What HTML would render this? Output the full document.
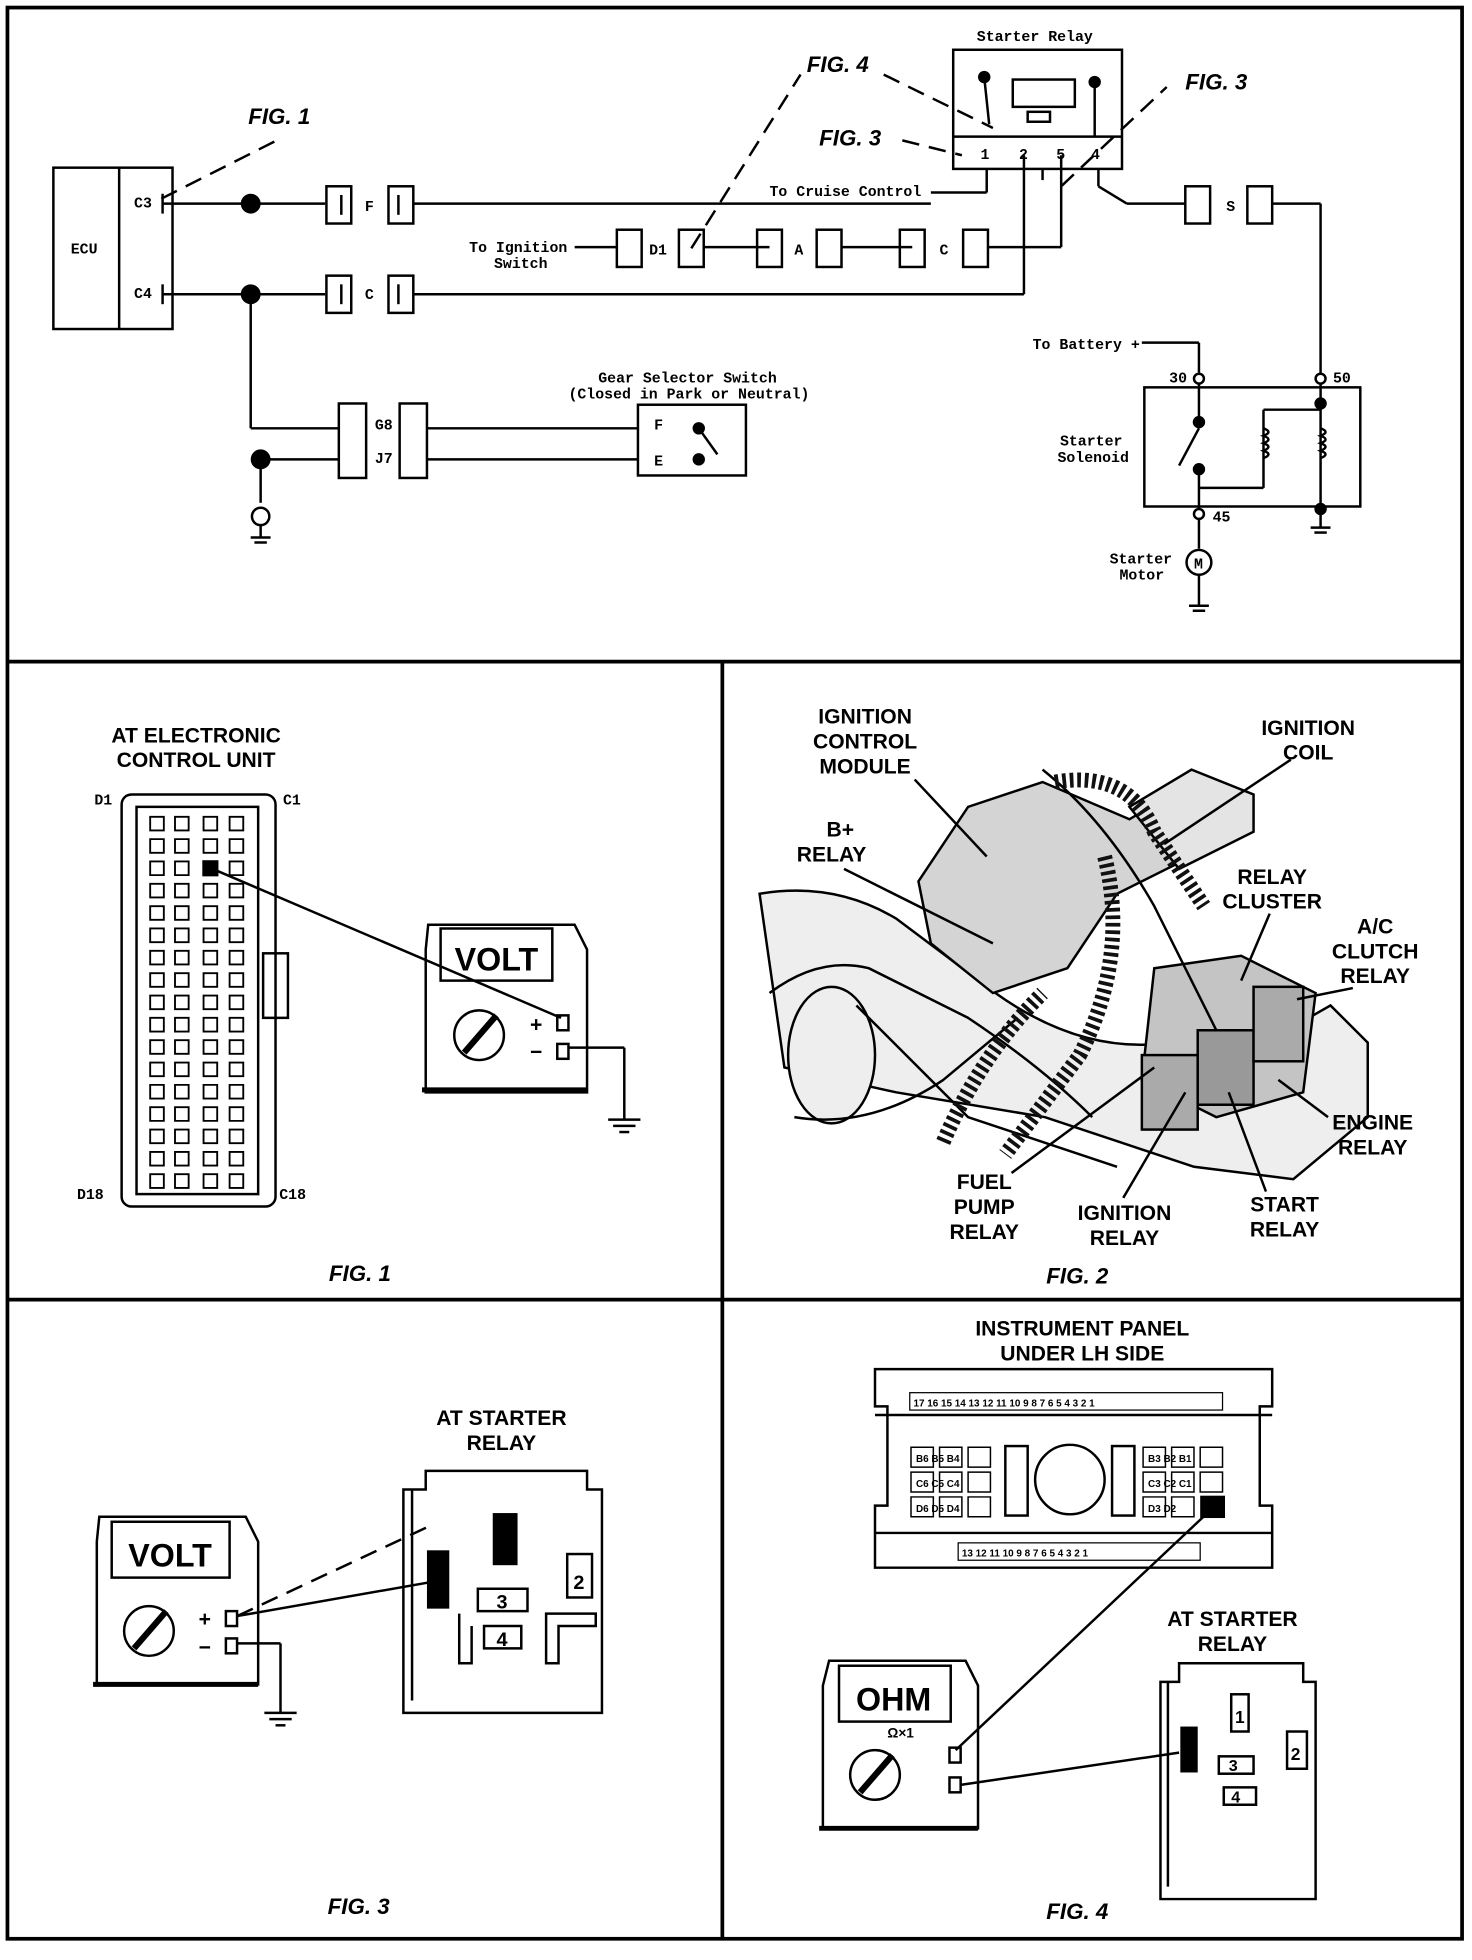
<!DOCTYPE html>
<html><head><meta charset="utf-8"><style>
html,body{margin:0;padding:0;background:#fff}
svg{display:block}
text{font-family:"Liberation Sans",sans-serif;fill:#000}
.m{font-family:"Liberation Mono",monospace;font-weight:bold;font-size:12px}
.b{font-weight:bold;font-size:17px}
.f{font-weight:bold;font-style:italic;font-size:18px}
</style></head><body>
<svg width="1472" height="1960" viewBox="0 0 1186 1579" xmlns="http://www.w3.org/2000/svg" stroke="#000" fill="none" stroke-width="2">
<rect x="6" y="6" width="1172" height="1556" stroke-width="3"/>
<line x1="6" y1="533" x2="1178" y2="533" stroke-width="3"/>
<line x1="582" y1="533" x2="582" y2="1562" stroke-width="3"/>
<line x1="6" y1="1047" x2="1178" y2="1047" stroke-width="3"/>

<!-- ECU -->
<rect x="43" y="135" width="96" height="130"/>
<line x1="96" y1="135" x2="96" y2="265"/>
<text class="m" x="57" y="204" stroke="none">ECU</text>
<text class="m" x="108" y="167" stroke="none">C3</text>
<text class="m" x="108" y="240" stroke="none">C4</text>
<line x1="131" y1="156" x2="131" y2="172"/><line x1="131" y1="229" x2="131" y2="245"/>
<line x1="131" y1="164" x2="262" y2="164"/>
<line x1="131" y1="237" x2="262" y2="237"/>
<circle cx="202" cy="164" r="7" fill="#000"/><circle cx="202" cy="237" r="7" fill="#000"/>
<g stroke-dasharray="14,8"><line x1="130" y1="160" x2="225" y2="112"/></g>
<text class="f" x="200" y="100" stroke="none">FIG. 1</text>
<rect x="263" y="150" width="20" height="30"/><rect x="313" y="150" width="20" height="30"/>
<line x1="275" y1="157" x2="275" y2="173"/><line x1="321" y1="157" x2="321" y2="173"/>
<text class="m" x="294" y="170" stroke="none">F</text>
<line x1="333" y1="164" x2="750" y2="164"/>
<text class="m" x="620" y="158" stroke="none">To Cruise Control</text>
<line x1="750" y1="155" x2="795" y2="155"/>
<rect x="263" y="222" width="20" height="30"/><rect x="313" y="222" width="20" height="30"/>
<line x1="275" y1="229" x2="275" y2="245"/><line x1="321" y1="229" x2="321" y2="245"/>
<text class="m" x="294" y="241" stroke="none">C</text>
<line x1="333" y1="237" x2="825" y2="237"/>
<line x1="202" y1="237" x2="202" y2="345"/><line x1="202" y1="345" x2="273" y2="345"/>
<text class="m" x="378" y="203" stroke="none">To Ignition</text>
<text class="m" x="398" y="216" stroke="none">Switch</text>
<line x1="463" y1="199" x2="497" y2="199"/>
<rect x="497" y="185" width="20" height="30"/><text class="m" x="523" y="205" stroke="none">D1</text>
<rect x="547" y="185" width="20" height="30"/>
<line x1="567" y1="199" x2="620" y2="199"/>
<rect x="610" y="185" width="20" height="30"/><text class="m" x="640" y="205" stroke="none">A</text>
<rect x="658" y="185" width="20" height="30"/>
<line x1="678" y1="199" x2="735" y2="199"/>
<rect x="725" y="185" width="20" height="30"/><text class="m" x="757" y="205" stroke="none">C</text>
<rect x="776" y="185" width="20" height="30"/>
<line x1="796" y1="199" x2="855" y2="199"/>
<line x1="855" y1="199" x2="855" y2="125"/>
<line x1="825" y1="237" x2="825" y2="125"/>
<g stroke-dasharray="14,8"><line x1="557" y1="200" x2="645" y2="60"/><line x1="712" y1="60" x2="800" y2="103"/><line x1="727" y1="113" x2="775" y2="125"/><line x1="855" y1="150" x2="940" y2="70"/></g>
<text class="f" x="650" y="58" stroke="none">FIG. 4</text>
<text class="f" x="955" y="72" stroke="none">FIG. 3</text>
<text class="f" x="660" y="117" stroke="none">FIG. 3</text>
<text class="m" x="787" y="33" stroke="none">Starter Relay</text>
<rect x="768" y="40" width="136" height="96"/>
<line x1="768" y1="110" x2="904" y2="110"/>
<text class="m" x="790" y="128" stroke="none">1</text><text class="m" x="821" y="128" stroke="none">2</text><text class="m" x="851" y="128" stroke="none">5</text><text class="m" x="879" y="128" stroke="none">4</text>
<circle cx="793" cy="62" r="4" fill="#000"/><circle cx="882" cy="66" r="4" fill="#000"/>
<line x1="793" y1="62" x2="797" y2="100"/><line x1="882" y1="66" x2="882" y2="110"/>
<rect x="816" y="64" width="50" height="22"/><rect x="828" y="90" width="18" height="8"/>
<line x1="795" y1="136" x2="795" y2="155"/>
<line x1="885" y1="136" x2="885" y2="150"/><line x1="885" y1="150" x2="908" y2="164"/>
<line x1="908" y1="164" x2="955" y2="164"/>
<line x1="840" y1="136" x2="840" y2="145"/>
<rect x="955" y="150" width="20" height="30"/><text class="m" x="988" y="170" stroke="none">S</text>
<rect x="1005" y="150" width="20" height="30"/>
<line x1="1025" y1="164" x2="1064" y2="164"/><line x1="1064" y1="164" x2="1064" y2="305"/>
<text class="m" x="832" y="281" stroke="none">To Battery +</text>
<line x1="920" y1="276" x2="966" y2="276"/><line x1="966" y1="276" x2="966" y2="300"/>
<text class="m" x="942" y="308" stroke="none">30</text><text class="m" x="1074" y="308" stroke="none">50</text>
<circle cx="966" cy="305" r="4" fill="#fff"/><circle cx="1064" cy="305" r="4" fill="#fff"/>
<rect x="922" y="312" width="174" height="96"/>
<text class="m" x="854" y="359" stroke="none">Starter</text><text class="m" x="852" y="372" stroke="none">Solenoid</text>
<line x1="966" y1="309" x2="966" y2="340"/><line x1="966" y1="345" x2="950" y2="375"/>
<circle cx="966" cy="340" r="4" fill="#000"/><circle cx="966" cy="378" r="4" fill="#000"/>
<line x1="966" y1="378" x2="966" y2="410"/>
<line x1="966" y1="393" x2="1018" y2="393"/>
<line x1="1018" y1="393" x2="1018" y2="330"/><line x1="1018" y1="330" x2="1064" y2="330"/>
<path d="M1018 345 q8 3 0 6 q8 3 0 6 q8 3 0 6 q8 3 0 6"/>
<path d="M1064 345 q8 3 0 6 q8 3 0 6 q8 3 0 6 q8 3 0 6"/>
<circle cx="1064" cy="325" r="4" fill="#000"/><circle cx="1064" cy="410" r="4" fill="#000"/>
<line x1="1064" y1="309" x2="1064" y2="425"/>
<line x1="1056" y1="425" x2="1072" y2="425"/><line x1="1059" y1="429" x2="1069" y2="429"/>
<circle cx="966" cy="414" r="4" fill="#fff"/><text class="m" x="977" y="420" stroke="none">45</text>
<line x1="966" y1="418" x2="966" y2="442"/>
<circle cx="966" cy="453" r="10"/><text class="m" x="962" y="458" stroke="none" font-size="9">M</text>
<text class="m" x="894" y="454" stroke="none">Starter</text><text class="m" x="902" y="467" stroke="none">Motor</text>
<line x1="966" y1="463" x2="966" y2="488"/>
<line x1="958" y1="488" x2="974" y2="488"/><line x1="961" y1="492" x2="971" y2="492"/>
<rect x="273" y="325" width="22" height="60"/><rect x="322" y="325" width="22" height="60"/>
<text class="m" x="302" y="346" stroke="none">G8</text><text class="m" x="302" y="373" stroke="none">J7</text>
<line x1="344" y1="345" x2="514" y2="345"/><line x1="344" y1="370" x2="514" y2="370"/>
<text class="m" x="482" y="308" stroke="none">Gear Selector Switch</text>
<text class="m" x="458" y="321" stroke="none">(Closed in Park or Neutral)</text>
<rect x="514" y="326" width="87" height="57"/>
<text class="m" x="527" y="346" stroke="none">F</text><text class="m" x="527" y="375" stroke="none">E</text>
<circle cx="563" cy="345" r="4" fill="#000"/><circle cx="563" cy="370" r="4" fill="#000"/>
<line x1="563" y1="345" x2="578" y2="366"/>
<circle cx="210" cy="370" r="7" fill="#000"/><line x1="217" y1="370" x2="273" y2="370"/>
<line x1="210" y1="377" x2="210" y2="405"/><circle cx="210" cy="416" r="7"/>
<line x1="210" y1="423" x2="210" y2="433"/><line x1="202" y1="433" x2="218" y2="433"/><line x1="205" y1="437" x2="215" y2="437"/>

<!-- FIG 1 -->
<text class="b" x="158" y="598" text-anchor="middle" stroke="none">AT ELECTRONIC</text>
<text class="b" x="158" y="618" text-anchor="middle" stroke="none">CONTROL UNIT</text>
<text class="m" x="76" y="648" stroke="none">D1</text><text class="m" x="228" y="648" stroke="none">C1</text>
<text class="m" x="62" y="966" stroke="none">D18</text><text class="m" x="225" y="966" stroke="none">C18</text>
<rect x="98" y="640" width="124" height="332" rx="8"/>
<rect x="110" y="650" width="98" height="312"/>
<g stroke-width="1.5">
<path d="M121 658h11v11h-11zM141 658h11v11h-11zM164 658h11v11h-11zM185 658h11v11h-11z
M121 676h11v11h-11zM141 676h11v11h-11zM164 676h11v11h-11zM185 676h11v11h-11z
M121 694h11v11h-11zM141 694h11v11h-11zM185 694h11v11h-11z
M121 712h11v11h-11zM141 712h11v11h-11zM164 712h11v11h-11zM185 712h11v11h-11z
M121 730h11v11h-11zM141 730h11v11h-11zM164 730h11v11h-11zM185 730h11v11h-11z
M121 748h11v11h-11zM141 748h11v11h-11zM164 748h11v11h-11zM185 748h11v11h-11z
M121 766h11v11h-11zM141 766h11v11h-11zM164 766h11v11h-11zM185 766h11v11h-11z
M121 784h11v11h-11zM141 784h11v11h-11zM164 784h11v11h-11zM185 784h11v11h-11z
M121 802h11v11h-11zM141 802h11v11h-11zM164 802h11v11h-11zM185 802h11v11h-11z
M121 820h11v11h-11zM141 820h11v11h-11zM164 820h11v11h-11zM185 820h11v11h-11z
M121 838h11v11h-11zM141 838h11v11h-11zM164 838h11v11h-11zM185 838h11v11h-11z
M121 856h11v11h-11zM141 856h11v11h-11zM164 856h11v11h-11zM185 856h11v11h-11z
M121 874h11v11h-11zM141 874h11v11h-11zM164 874h11v11h-11zM185 874h11v11h-11z
M121 892h11v11h-11zM141 892h11v11h-11zM164 892h11v11h-11zM185 892h11v11h-11z
M121 910h11v11h-11zM141 910h11v11h-11zM164 910h11v11h-11zM185 910h11v11h-11z
M121 928h11v11h-11zM141 928h11v11h-11zM164 928h11v11h-11zM185 928h11v11h-11z
M121 946h11v11h-11zM141 946h11v11h-11zM164 946h11v11h-11zM185 946h11v11h-11z"/>
</g>
<rect x="164" y="694" width="11" height="11" fill="#000"/>
<rect x="212" y="768" width="20" height="52"/>
<line x1="169" y1="699" x2="452" y2="820"/>
<path d="M345 745 l118 0 l10 20 l0 115 l-130 0 l0 -115 z"/>
<line x1="340" y1="878" x2="473" y2="878" stroke-width="4"/>
<rect x="355" y="748" width="90" height="42"/>
<text x="400" y="782" text-anchor="middle" stroke="none" font-size="26" font-weight="bold">VOLT</text>
<circle cx="386" cy="834" r="20"/><line x1="374" y1="848" x2="400" y2="818" stroke-width="5"/>
<text class="b" x="427" y="831" stroke="none">+</text><text class="b" x="427" y="853" stroke="none">−</text>
<rect x="449" y="818" width="9" height="12"/><rect x="449" y="841" width="9" height="12"/>
<line x1="458" y1="844" x2="503" y2="844"/><line x1="503" y1="844" x2="503" y2="902"/>
<line x1="490" y1="902" x2="516" y2="902"/><line x1="494" y1="907" x2="512" y2="907"/><line x1="499" y1="912" x2="507" y2="912"/>
<text class="f" x="290" y="1032" text-anchor="middle" stroke="none">FIG. 1</text>

<!-- FIG 2 shapes -->
<g stroke-width="2">
<path d="M612 720 q60 -10 110 20 l80 60 q70 50 140 40 l60 10 l70 -40 l30 30 l0 60 l-60 50 l-80 -10 l-120 -40 l-120 -20 l-90 -20 z" fill="#eee"/>
<path d="M740 710 l40 -60 l60 -20 l70 30 l50 -30 l40 10 l-20 40 l-80 40 l-40 60 l-60 20 l-50 -40 z" fill="#d4d4d4"/>
<path d="M910 650 l50 -30 l50 20 l0 30 l-60 30 z" fill="#e4e4e4"/>
<path d="M930 780 l70 -10 l60 30 l-10 80 l-70 20 l-60 -30 z" fill="#c4c4c4"/>
<rect x="920" y="850" width="45" height="60" fill="#aaa"/><rect x="965" y="830" width="45" height="60" fill="#999"/><rect x="1010" y="795" width="40" height="60" fill="#aaa"/>
<ellipse cx="670" cy="850" rx="35" ry="55" fill="#eee"/>
</g>
<path d="M620 800 q40 -30 80 -20 l80 40 q60 40 100 80"/>
<path d="M640 900 q60 10 120 -30 l60 -50"/>
<path d="M840 620 q50 40 90 110 l50 100"/>
<path d="M690 810 l90 90 l120 40"/>
<g stroke-width="12" stroke="#111" stroke-dasharray="3,3">
<path d="M890 690 q20 80 -20 160 l-60 80"/>
<path d="M850 630 q60 -10 80 40 l40 60"/>
<path d="M760 920 q30 -70 80 -120"/>
</g>
<line x1="737" y1="628" x2="795" y2="690"/><line x1="1040" y1="612" x2="938" y2="680"/>
<line x1="680" y1="700" x2="800" y2="760"/><line x1="1023" y1="736" x2="1000" y2="790"/>
<line x1="1090" y1="796" x2="1045" y2="805"/><line x1="1070" y1="900" x2="1030" y2="870"/>
<line x1="1020" y1="960" x2="990" y2="880"/><line x1="905" y1="965" x2="955" y2="880"/>
<line x1="815" y1="945" x2="930" y2="860"/>
<!-- FIG 2 labels -->
<g stroke="none">
<text class="b" x="697" y="583" text-anchor="middle">IGNITION</text>
<text class="b" x="697" y="603" text-anchor="middle">CONTROL</text>
<text class="b" x="697" y="623" text-anchor="middle">MODULE</text>
<text class="b" x="1054" y="592" text-anchor="middle">IGNITION</text>
<text class="b" x="1054" y="612" text-anchor="middle">COIL</text>
<text class="b" x="677" y="674" text-anchor="middle">B+</text>
<text class="b" x="670" y="694" text-anchor="middle">RELAY</text>
<text class="b" x="1025" y="712" text-anchor="middle">RELAY</text>
<text class="b" x="1025" y="732" text-anchor="middle">CLUSTER</text>
<text class="b" x="1108" y="752" text-anchor="middle">A/C</text>
<text class="b" x="1108" y="772" text-anchor="middle">CLUTCH</text>
<text class="b" x="1108" y="792" text-anchor="middle">RELAY</text>
<text class="b" x="1106" y="910" text-anchor="middle">ENGINE</text>
<text class="b" x="1106" y="930" text-anchor="middle">RELAY</text>
<text class="b" x="1035" y="976" text-anchor="middle">START</text>
<text class="b" x="1035" y="996" text-anchor="middle">RELAY</text>
<text class="b" x="906" y="983" text-anchor="middle">IGNITION</text>
<text class="b" x="906" y="1003" text-anchor="middle">RELAY</text>
<text class="b" x="793" y="958" text-anchor="middle">FUEL</text>
<text class="b" x="793" y="978" text-anchor="middle">PUMP</text>
<text class="b" x="793" y="998" text-anchor="middle">RELAY</text>
<text class="f" x="868" y="1034" text-anchor="middle">FIG. 2</text>
</g>

<!-- FIG 3 -->
<text class="b" x="404" y="1148" text-anchor="middle" stroke="none">AT STARTER</text>
<text class="b" x="404" y="1168" text-anchor="middle" stroke="none">RELAY</text>
<path d="M80 1222 l118 0 l10 20 l0 115 l-130 0 l0 -115 z"/>
<line x1="75" y1="1357" x2="208" y2="1357" stroke-width="4"/>
<rect x="90" y="1226" width="95" height="45"/>
<text x="137" y="1262" text-anchor="middle" stroke="none" font-size="26" font-weight="bold">VOLT</text>
<circle cx="120" cy="1314" r="20"/><line x1="108" y1="1328" x2="134" y2="1298" stroke-width="5"/>
<text class="b" x="160" y="1310" stroke="none">+</text><text class="b" x="160" y="1333" stroke="none">−</text>
<rect x="182" y="1298" width="9" height="12"/><rect x="182" y="1320" width="9" height="12"/>
<line x1="191" y1="1324" x2="226" y2="1324"/><line x1="226" y1="1324" x2="226" y2="1380"/>
<line x1="213" y1="1380" x2="239" y2="1380"/><line x1="217" y1="1385" x2="235" y2="1385"/><line x1="222" y1="1390" x2="230" y2="1390"/>
<line x1="191" y1="1302" x2="345" y2="1275"/><line x1="191" y1="1302" x2="345" y2="1230" stroke-dasharray="14,8"/>
<path d="M325 1200 l18 0 l0 -15 l130 0 l0 15 l12 0 l0 180 l-160 0 z"/>
<line x1="332" y1="1200" x2="332" y2="1370"/>
<rect x="398" y="1220" width="18" height="40" fill="#000"/>
<rect x="345" y="1250" width="16" height="45" fill="#000"/>
<rect x="457" y="1252" width="20" height="35"/><text x="462" y="1280" stroke="none" font-size="16" font-weight="bold">2</text>
<path d="M385 1280 l40 0 l0 18 l-40 0 z"/><text x="400" y="1296" stroke="none" font-size="16" font-weight="bold">3</text>
<path d="M390 1310 l30 0 l0 18 l-30 0 z"/><text x="400" y="1326" stroke="none" font-size="16" font-weight="bold">4</text>
<path d="M370 1300 l0 40 l10 0 l0 -30"/><path d="M440 1300 l40 0 l0 10 l-30 0 l0 30 l-10 0z"/>
<text class="f" x="289" y="1542" text-anchor="middle" stroke="none">FIG. 3</text>

<!-- FIG 4 -->
<text class="b" x="872" y="1076" text-anchor="middle" stroke="none">INSTRUMENT PANEL</text>
<text class="b" x="872" y="1096" text-anchor="middle" stroke="none">UNDER LH SIDE</text>
<path d="M705 1103 l320 0 l0 30 l-10 0 l0 80 l10 0 l0 50 l-320 0 l0 -50 l10 0 l0 -80 l-10 0 z"/>
<line x1="705" y1="1140" x2="1025" y2="1140"/>
<line x1="705" y1="1235" x2="1025" y2="1235"/>
<g font-size="8" font-weight="bold">
<rect x="733" y="1122" width="252" height="14" stroke-width="1"/>
<text x="736" y="1133" stroke="none">17 16 15 14 13 12 11 10  9   8   7   6   5   4   3   2   1</text>
<rect x="772" y="1243" width="195" height="14" stroke-width="1"/>
<text x="775" y="1254" stroke="none">13 12 11 10  9   8   7   6   5   4   3   2   1</text>
<text x="738" y="1178" stroke="none">B6  B5  B4</text>
<text x="738" y="1198" stroke="none">C6  C5  C4</text>
<text x="738" y="1218" stroke="none">D6  D5  D4</text>
<text x="925" y="1178" stroke="none">B3  B2  B1</text>
<text x="925" y="1198" stroke="none">C3  C2  C1</text>
<text x="925" y="1218" stroke="none">D3  D2</text>
</g>
<g stroke-width="1.2">
<path d="M734 1166h18v16h-18zM757 1166h18v16h-18zM780 1166h18v16h-18zM734 1186h18v16h-18zM757 1186h18v16h-18zM780 1186h18v16h-18zM734 1206h18v16h-18zM757 1206h18v16h-18zM780 1206h18v16h-18z"/>
<path d="M921 1166h18v16h-18zM944 1166h18v16h-18zM967 1166h18v16h-18zM921 1186h18v16h-18zM944 1186h18v16h-18zM967 1186h18v16h-18zM921 1206h18v16h-18zM944 1206h18v16h-18z"/>
</g>
<rect x="968" y="1206" width="18" height="16" fill="#000"/>
<rect x="810" y="1165" width="18" height="56"/><rect x="896" y="1165" width="18" height="56"/>
<circle cx="862" cy="1192" r="28"/>
<text class="b" x="993" y="1310" text-anchor="middle" stroke="none">AT STARTER</text>
<text class="b" x="993" y="1330" text-anchor="middle" stroke="none">RELAY</text>
<path d="M668 1338 l110 0 l10 20 l0 115 l-125 0 l0 -115 z"/>
<line x1="660" y1="1473" x2="788" y2="1473" stroke-width="4"/>
<rect x="676" y="1342" width="90" height="45"/>
<text x="720" y="1378" text-anchor="middle" stroke="none" font-size="26" font-weight="bold">OHM</text>
<text x="715" y="1400" stroke="none" font-size="11" font-weight="bold">Ω×1</text>
<circle cx="705" cy="1430" r="20"/><line x1="693" y1="1444" x2="719" y2="1414" stroke-width="5"/>
<rect x="765" y="1408" width="9" height="12"/><rect x="765" y="1432" width="9" height="12"/>
<line x1="770" y1="1410" x2="977" y2="1215"/><line x1="774" y1="1438" x2="950" y2="1412"/>
<path d="M935 1355 l15 0 l0 -15 l100 0 l0 15 l10 0 l0 175 l-125 0 z"/>
<line x1="941" y1="1355" x2="941" y2="1520"/>
<rect x="952" y="1392" width="12" height="35" fill="#000"/>
<rect x="992" y="1365" width="14" height="30"/><text x="995" y="1388" stroke="none" font-size="14" font-weight="bold">1</text>
<rect x="1037" y="1395" width="16" height="30"/><text x="1040" y="1418" stroke="none" font-size="14" font-weight="bold">2</text>
<rect x="982" y="1415" width="28" height="14"/><text x="990" y="1427" stroke="none" font-size="13" font-weight="bold">3</text>
<rect x="986" y="1440" width="26" height="14"/><text x="992" y="1452" stroke="none" font-size="13" font-weight="bold">4</text>
<text class="f" x="868" y="1546" text-anchor="middle" stroke="none">FIG. 4</text>
</svg>
</body></html>
